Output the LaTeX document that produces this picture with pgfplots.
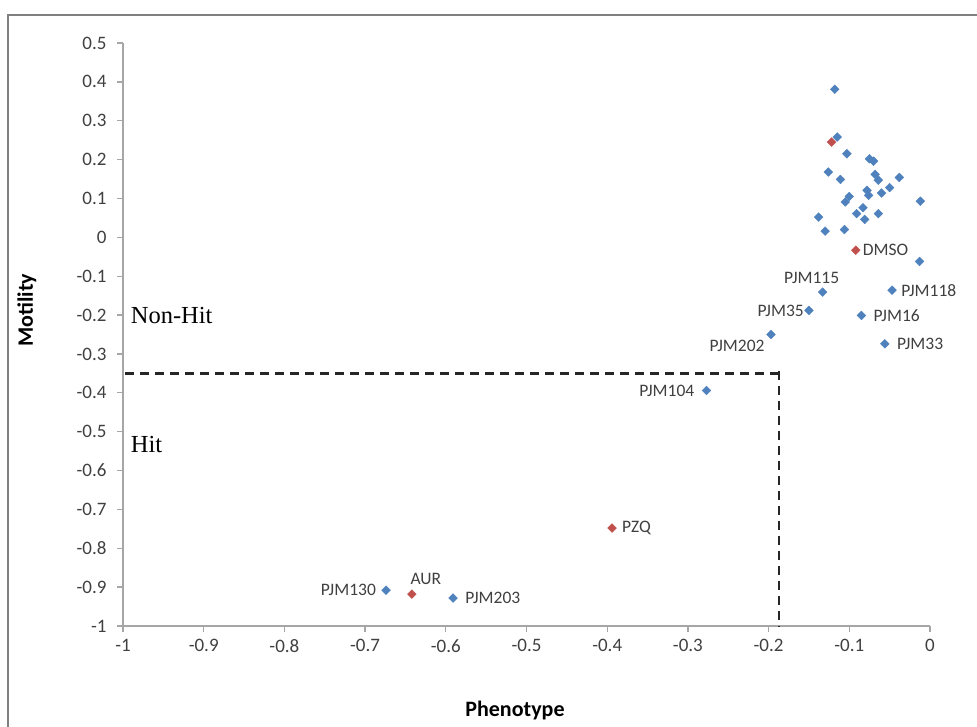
\documentclass[border=0pt]{standalone}
\usepackage{pgfplots}
\pgfplotsset{compat=1.18}
\usepackage{fontspec}
\setmainfont{Carlito}
\newfontfamily\seriffont{Liberation Serif}
\definecolor{pblue}{HTML}{4F81BD}
\definecolor{pred}{HTML}{C0504D}
\definecolor{axgray}{HTML}{A6A6A6}
\definecolor{txt}{HTML}{404040}
\definecolor{framegray}{HTML}{808080}
\newcommand{\lab}{\fontsize{17.5}{20}\selectfont\color{txt}}
\begin{document}
\begin{tikzpicture}
\useasboundingbox (0pt,0pt) rectangle (977pt,726pt);
\draw[framegray, line width=2.5pt] (8pt,-5pt) -- (8pt,711pt) -- (985pt,711pt);
\begin{axis}[
  at={(123pt,100pt)}, anchor=south west,
  scale only axis, width=807pt, height=583pt,
  xmin=-1, xmax=0, ymin=-1, ymax=0.5,
  axis x line=bottom, axis y line=left,
  axis line style={axgray, line width=1.3pt, -},
  tick align=outside, major tick length=6pt,
  tick style={axgray, line width=1.3pt},
  xtick={-1,-0.9,-0.8,-0.7,-0.6,-0.5,-0.4,-0.3,-0.2,-0.1,0},
  xticklabels={-1,-0.9,-0.8,-0.7,-0.6,-0.5,-0.4,-0.3,-0.2,-0.1,0},
  ytick={-1,-0.9,-0.8,-0.7,-0.6,-0.5,-0.4,-0.3,-0.2,-0.1,0,0.1,0.2,0.3,0.4,0.5},
  yticklabels={-1,-0.9,-0.8,-0.7,-0.6,-0.5,-0.4,-0.3,-0.2,-0.1,0,0.1,0.2,0.3,0.4,0.5},
  ticklabel style={font=\fontsize{19}{22}\selectfont, text=txt},
  yticklabel style={xshift=-7pt},
  xticklabel style={yshift=-4pt},
  xlabel={\textbf{Phenotype}},
  ylabel={\textbf{Motility}},
  xlabel style={at={(axis description cs:0.4857,0)}, anchor=center, yshift=-85pt, font=\fontsize{22}{26}\selectfont},
  ylabel style={at={(axis description cs:-0.119,0.542)}, anchor=center, font=\fontsize{22}{26}\selectfont},
  clip=false,
]
% threshold lines
\addplot[color=black!85, dash pattern=on 9pt off 6pt, line width=2.4pt] coordinates {(-0.997,-0.35) (-0.187,-0.35)};
\addplot[color=black!85, dash pattern=on 9pt off 6pt, line width=2.4pt] coordinates {(-0.187,-0.343) (-0.187,-1)};
% red controls
\addplot[only marks, mark=square*, mark size=3.1pt, mark options={rotate=45, fill=pred, draw=pred}] coordinates {
(-0.122,0.245) (-0.092,-0.033) (-0.394,-0.748) (-0.642,-0.918)};
% blue compounds
\addplot[only marks, mark=square*, mark size=3.1pt, mark options={rotate=45, fill=pblue, draw=pblue}] coordinates {
(-0.118,0.381) (-0.115,0.258) (-0.103,0.215) (-0.075,0.202) (-0.070,0.196)
(-0.126,0.168) (-0.111,0.149) (-0.068,0.162) (-0.064,0.147) (-0.038,0.154)
(-0.050,0.128) (-0.060,0.114) (-0.078,0.121) (-0.076,0.108) (-0.100,0.105)
(-0.105,0.091) (-0.012,0.093) (-0.083,0.076) (-0.091,0.061) (-0.064,0.061)
(-0.081,0.046) (-0.138,0.052) (-0.130,0.016) (-0.106,0.020) (-0.013,-0.062)
(-0.133,-0.141) (-0.047,-0.136) (-0.150,-0.188) (-0.085,-0.201) (-0.197,-0.250)
(-0.056,-0.274) (-0.277,-0.394) (-0.674,-0.908) (-0.591,-0.928)};
% labels
\node[anchor=west, inner sep=0, xshift=7pt, font=\lab] at (axis cs:-0.092,-0.033) {DMSO};
\node[anchor=center, inner sep=0, xshift=-11pt, yshift=14pt, font=\lab] at (axis cs:-0.133,-0.141) {PJM115};
\node[anchor=west, inner sep=0, xshift=9pt, font=\lab] at (axis cs:-0.047,-0.136) {PJM118};
\node[anchor=east, inner sep=0, xshift=-5pt, font=\lab] at (axis cs:-0.150,-0.188) {PJM35};
\node[anchor=west, inner sep=0, xshift=12pt, font=\lab] at (axis cs:-0.085,-0.201) {PJM16};
\node[anchor=center, inner sep=0, xshift=-34pt, yshift=-11pt, font=\lab] at (axis cs:-0.197,-0.250) {PJM202};
\node[anchor=west, inner sep=0, xshift=12pt, font=\lab] at (axis cs:-0.056,-0.274) {PJM33};
\node[anchor=east, inner sep=0, xshift=-12pt, font=\lab] at (axis cs:-0.277,-0.394) {PJM104};
\node[anchor=west, inner sep=0, xshift=10pt, font=\lab] at (axis cs:-0.394,-0.748) {PZQ};
\node[anchor=east, inner sep=0, xshift=-10pt, font=\lab] at (axis cs:-0.674,-0.908) {PJM130};
\node[anchor=center, inner sep=0, xshift=14pt, yshift=15pt, font=\lab] at (axis cs:-0.642,-0.918) {AUR};
\node[anchor=west, inner sep=0, xshift=12pt, font=\lab] at (axis cs:-0.591,-0.928) {PJM203};
% regions
\node[anchor=west, inner sep=0, font=\seriffont\fontsize{24.5}{28}\selectfont] at (axis cs:-0.9905,-0.200) {Non-Hit};
\node[anchor=west, inner sep=0, font=\seriffont\fontsize{24.5}{28}\selectfont] at (axis cs:-0.9905,-0.534) {Hit};
\end{axis}
\end{tikzpicture}
\end{document}
